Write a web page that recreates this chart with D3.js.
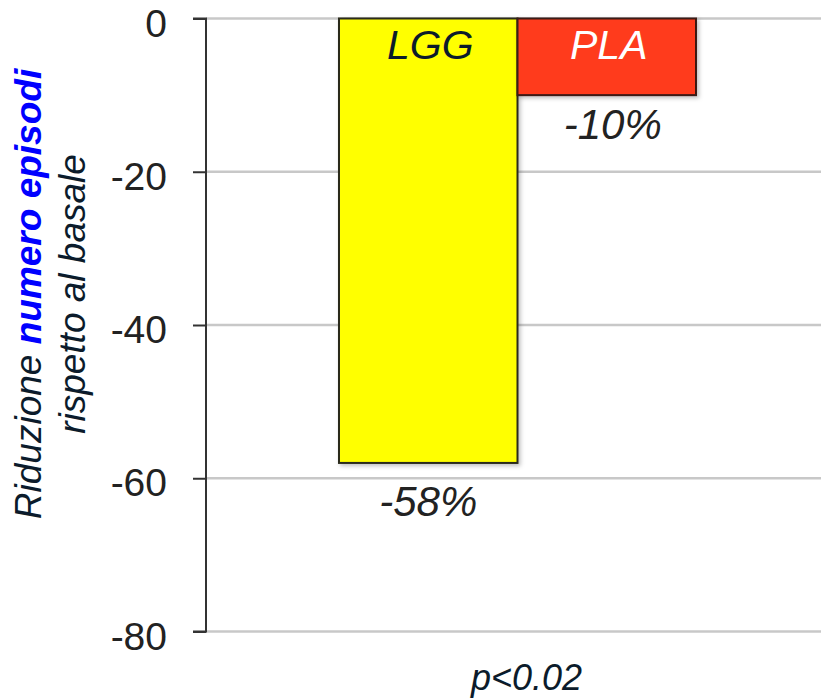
<!DOCTYPE html>
<html>
<head>
<meta charset="utf-8">
<script src="https://cdn.jsdelivr.net/npm/d3@7"></script>
<style>
  html, body { margin: 0; padding: 0; background: #fff; }
  svg { display: block; }
  text { font-family: "Liberation Sans", Arial, sans-serif; }
</style>
</head>
<body>
<svg id="chart" width="821" height="698"></svg>
<script>
// Reduction in number of episodes vs. baseline (%)
const groupLabel = "p<0.02";
const seriesNames = ["LGG", "PLA"];
const seriesValues = [-58, -10];
const valueLabels = ["-58%", "-10%"];
const seriesFill = ["#ffff00", "#ff3a1a"];
const seriesStroke = ["#2a2a1a", "#3a1a12"];
const seriesNameColor = ["#0b1b2b", "#ffffff"];
const yTicks = [0, -20, -40, -60, -80];

const svg = d3.select("#chart");
const W = 821, H = 698;
const plot = { left: 206, right: 829, top: 18.5, bottom: 631.5 };

// gap between a bar's end and its value label, and horizontal nudge
const labelGap = [53, 44];
const labelShift = [0, 6];

const y = d3.scaleLinear().domain([0, -80]).range([plot.top, plot.bottom]);

const x0 = d3.scaleBand()
  .domain([groupLabel])
  .range([plot.left, plot.right])
  .paddingInner(0)
  .paddingOuter(0.3725);

const x1 = d3.scaleBand()
  .domain(seriesNames)
  .range([0, x0.bandwidth()])
  .padding(0);

// subtle shadow under the bars
const defs = svg.append("defs");
const f = defs.append("filter").attr("id", "shadow")
  .attr("x", "-10%").attr("y", "-10%").attr("width", "130%").attr("height", "130%");
f.append("feDropShadow").attr("dx", 2).attr("dy", 2).attr("stdDeviation", 2)
  .attr("flood-color", "#000").attr("flood-opacity", 0.25);

// gridlines
svg.append("g")
  .selectAll("line")
  .data(yTicks)
  .join("line")
  .attr("x1", plot.left).attr("x2", W)
  .attr("y1", d => y(d)).attr("y2", d => y(d))
  .attr("stroke", "#c8c8c8").attr("stroke-width", 2.5);

// y axis
const yAxis = d3.axisLeft(y).tickValues(yTicks).tickSize(13).tickPadding(26)
  .tickFormat(d => String(d));
const gy = svg.append("g").attr("transform", `translate(${plot.left},0)`).call(yAxis);
gy.select(".domain").attr("stroke", "#333").attr("stroke-width", 2)
  .attr("d", `M-13,${y(0)}H0V${y(-80)}H-13`);
gy.selectAll(".tick line").attr("stroke", "#333").attr("stroke-width", 2);
gy.selectAll(".tick text")
  .attr("font-size", 39).attr("fill", "#222")
  .attr("font-family", "Liberation Sans, Arial, sans-serif")
  .attr("dy", "0.45em");

// bars
const g = svg.append("g").attr("transform", `translate(${x0(groupLabel)},0)`);
const data = seriesNames.map((name, i) => ({ name, value: seriesValues[i], label: valueLabels[i], i }));

g.selectAll("rect")
  .data(data)
  .join("rect")
  .attr("x", d => x1(d.name))
  .attr("y", y(0))
  .attr("width", x1.bandwidth())
  .attr("height", d => y(d.value) - y(0))
  .attr("fill", d => seriesFill[d.i])
  .attr("stroke", d => seriesStroke[d.i])
  .attr("stroke-width", 2)
  .attr("filter", "url(#shadow)");

// series names inside bars
g.selectAll("text.name")
  .data(data)
  .join("text")
  .attr("class", "name")
  .attr("x", d => x1(d.name) + x1.bandwidth() / 2 + 2)
  .attr("y", 59)
  .attr("text-anchor", "middle")
  .attr("font-size", 41)
  .attr("font-style", "italic")
  .attr("fill", d => seriesNameColor[d.i])
  .text(d => d.name);

// value labels below bars
g.selectAll("text.val")
  .data(data)
  .join("text")
  .attr("class", "val")
  .attr("x", d => x1(d.name) + x1.bandwidth() / 2 + labelShift[d.i])
  .attr("y", d => y(d.value) + labelGap[d.i])
  .attr("text-anchor", "middle")
  .attr("font-size", 42)
  .attr("font-style", "italic")
  .attr("fill", "#222")
  .text(d => d.label);

// category label
svg.append("text")
  .attr("x", x0(groupLabel) + x0.bandwidth() / 2 + 9)
  .attr("y", 690)
  .attr("text-anchor", "middle")
  .attr("font-size", 36)
  .attr("font-style", "italic")
  .attr("fill", "#0b1b2b")
  .text(groupLabel);

// y axis title (two lines)
const titleY = 294;
const t1 = svg.append("text")
  .attr("transform", `translate(41,${titleY}) rotate(-90)`)
  .attr("text-anchor", "middle")
  .attr("font-size", 37)
  .attr("font-style", "italic");
t1.append("tspan").attr("fill", "#0b1b2b").text("Riduzione ");
t1.append("tspan").attr("fill", "#0000ff").attr("font-weight", "bold").text("numero episodi");

svg.append("text")
  .attr("transform", `translate(85,${titleY}) rotate(-90)`)
  .attr("text-anchor", "middle")
  .attr("font-size", 37)
  .attr("font-style", "italic")
  .attr("fill", "#0b1b2b")
  .text("rispetto al basale");
</script>
</body>
</html>
